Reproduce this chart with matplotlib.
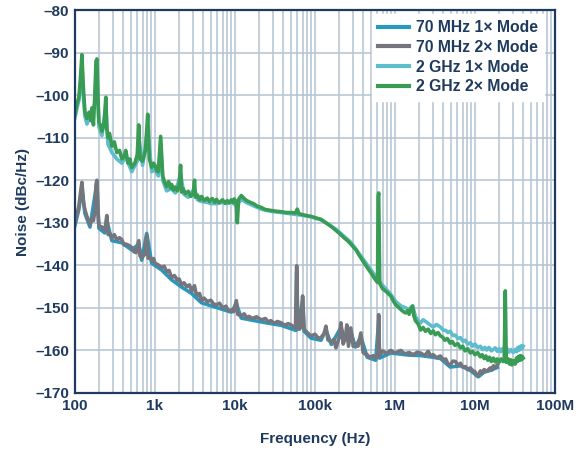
import matplotlib
matplotlib.use("Agg")
import matplotlib.pyplot as plt
from matplotlib.ticker import LogLocator, FixedLocator, NullFormatter

plt.rcParams['font.family'] = ['Liberation Sans', 'DejaVu Sans']

# ---------------- data (frequency in Hz, noise in dBc/Hz) ----------------
g2_f = [100, 106, 112, 117, 122, 127, 133, 141, 150, 158, 163, 170, 177, 183, 188, 194, 199,
        208, 217, 230, 243, 250, 258, 270, 289, 310, 333, 360, 385, 410, 431, 460, 485, 512,
        560, 600, 626, 650, 700, 760, 811, 850, 909, 960, 1000, 1050, 1100, 1177, 1250, 1320,
        1397, 1480, 1560, 1613, 1700, 1800, 1900, 2000, 2088, 2150, 2250, 2400, 2600, 2800,
        3000, 3119, 3200, 3400, 3600, 3811, 4100, 4500, 4800, 5200, 5600, 5861, 6300, 7000,
        7500, 8000, 8500, 8995, 9400, 9800, 10200, 10400, 10690, 11100, 11990, 13000, 14000,
        15500, 17000, 19000, 21280, 24000, 28310, 33000, 37740, 44000, 50230, 57000, 60000,
        63000, 66970, 78000, 89210, 100000, 118800, 135000, 150000, 165000, 182600, 205000,
        230000, 255000, 280700, 305000, 330000, 350000, 373900, 400000, 430000, 460000,
        498000, 535000, 574300, 605000, 615000, 625000, 645000, 700000, 780000, 883500,
        950000, 1.02e6, 1.1e6, 1.2e6, 1.28e6, 1.36e6, 1.45e6, 1.5e6, 1.58e6, 1.66e6, 1.72e6,
        1.8e6, 1.95e6, 2.09e6, 2.25e6, 2.4e6, 2.6e6, 2.8e6, 3.0e6, 3.2e6, 3.45e6, 3.7e6,
        3.95e6, 4.2e6, 4.5e6, 4.9e6, 5.2e6, 5.6e6, 6.1e6, 6.58e6, 7e6, 7.5e6, 8.1e6, 8.75e6,
        9.3e6, 10e6, 10.8e6, 11.66e6, 12.3e6, 13e6, 13.7e6, 14.5e6, 15.2e6, 16e6, 17e6,
        17.9e6, 19e6, 20e6, 21.2e6, 22.5e6, 23.2e6, 23.9e6, 24.6e6, 26e6, 27e6, 28e6, 29e6,
        30e6, 31.8e6, 33e6, 34e6, 35e6, 36e6, 37e6, 38e6, 39e6, 40e6]
g2_v = [-104.5, -102, -100.5, -96, -90.5, -98, -104, -105.5, -104, -106, -103, -107, -100, -92,
        -91.5, -101, -106.5, -107, -108.5, -107, -100.5, -108, -110, -109, -112, -111, -113.5,
        -113, -115, -114.5, -113, -116, -115, -117, -116, -114, -107, -115, -115.5, -113,
        -104.5, -115, -117, -116, -116.5, -117.8, -118, -109.7, -119, -120.5, -121.5, -120.3,
        -121.8, -121, -122.3, -121.6, -122.5, -121.5, -116.5, -122.8, -122, -123.2, -122.6,
        -123.8, -123.2, -120, -124, -123.5, -124.6, -123.8, -124.8, -124.2, -125, -124.3,
        -125.2, -124.5, -125.3, -124.6, -125.4, -124.8, -125.3, -124.6, -125.2, -124.4, -125,
        -126, -130, -124.5, -123.6, -124.3, -124.8, -125.2, -125.5, -126.1, -126.4, -126.9,
        -127.1, -127.3, -127.4, -127.6, -127.6, -127.7, -126.8, -127.9, -128, -128.3, -128.5,
        -128.8, -129.2, -129.9, -130.5, -131.1, -131.8, -132.6, -133.5, -134.2, -135, -135.8,
        -136.5, -137.4, -138.2, -139.1, -140, -140.8, -141.7, -142.6, -143.5, -144, -124, -123,
        -144.3, -145.5, -146.2, -147.2, -148.3, -149.3, -149.8, -150.5, -150.9, -151.2, -150.6,
        -151.5, -150.2, -149.6, -151.8, -153, -153.8, -155.2, -154.6, -155.5, -155, -156,
        -155.4, -156.3, -155.8, -156.6, -156.9, -157.6, -157.2, -158.3, -157.9, -158.8, -158.4,
        -159.4, -159, -160.1, -159.6, -160.6, -160.2, -161, -160.5, -161.5, -161, -161.9,
        -161.3, -162.3, -161.6, -162.6, -161.8, -162.7, -162, -162.8, -162, -162.6, -162.3,
        -146, -162.8, -162, -163.2, -162.2, -163.4, -162.4, -163.2, -161.8, -162.6, -161.4,
        -162.3, -161.2, -162.2, -161.4, -161.8]

c1_f = [100, 106, 112, 117, 122, 127, 133, 141, 150, 163, 177, 183, 188, 199, 217, 243, 258,
        289, 333, 385, 431, 512, 600, 626, 700, 811, 909, 1000, 1100, 1177, 1250, 1397, 1600,
        1800, 2088, 2300, 2600, 3119, 3400, 3811, 4500, 5000, 5861, 7000, 8000, 9000, 10400,
        11990, 14000, 17000, 21280, 28310, 37740, 50230, 66970, 89210, 118800, 182600,
        280700, 373900, 498000, 663500, 883500, 1.02e6, 1.2e6, 1.36e6, 1.5e6, 1.66e6, 1.8e6,
        1.95e6, 2.09e6, 2.25e6, 2.5e6, 2.7e6, 3.0e6, 3.3e6, 3.7e6, 4.0e6, 4.3e6, 4.6e6,
        4.9e6, 5.3e6, 5.7e6, 6.1e6, 6.58e6, 7.1e6, 7.6e6, 8.1e6, 8.75e6, 9.3e6, 10e6, 10.8e6,
        11.66e6, 12.5e6, 13.3e6, 14e6, 15e6, 16e6, 17.9e6, 19e6, 20e6, 21e6, 22e6, 23.5e6,
        25e6, 26.5e6, 28e6, 30e6, 31.8e6, 33e6, 34e6, 35e6, 36e6, 37e6, 38e6, 39e6, 40e6]
c1_v = [-105.3, -103, -101.2, -97.5, -93, -100, -105, -106.8, -105.5, -104.5, -102, -95,
        -94, -107.5, -109.5, -103, -111.5, -113.5, -115, -116, -114.5, -118, -115.5, -110,
        -116.5, -108, -118, -117.5, -119, -112, -120, -122.5, -122, -123, -118.5, -123.3, -124,
        -122, -124.6, -125, -125.2, -125.5, -125.5, -125.2, -125.5, -125.1, -126, -124.5,
        -125.3, -126, -126.8, -127.3, -127.6, -127.9, -128.2, -128.6, -129.3, -131.5, -134.6,
        -137.8, -141, -144.2, -146.8, -148.5, -149.6, -150, -150.4, -149.5, -152, -153,
        -153.5, -152.8, -153.4, -153.9, -154.5, -153.9, -154.5, -155.2, -155.3, -155.8,
        -155.5, -156.5, -156.4, -157.2, -157, -157.9, -157.6, -158.5, -158.2, -159, -158.5,
        -159.3, -159, -159.8, -159.3, -159.9, -159.3, -160.1, -159.4, -160.2, -159.6, -160.3,
        -159.6, -160.4, -159.5, -160.4, -159.8, -160.5, -159.8, -160.3, -159.4, -160,
        -159.1, -159.8, -158.9, -159.5, -159]

g70_f = [100, 106, 112, 117, 122, 127, 133, 141, 154, 162, 170, 178, 183, 188, 194, 199, 217,
         236, 250, 260, 270, 289, 310, 333, 360, 385, 410, 431, 470, 512, 545, 580, 626, 650,
         682, 740, 788, 820, 850, 909, 960, 1000, 1100, 1211, 1300, 1400, 1500, 1613, 1750,
         1900, 2000, 2148, 2300, 2500, 2700, 2861, 3000, 3119, 3250, 3400, 3600, 3811, 4100,
         4500, 5000, 5400, 5861, 6400, 7000, 7700, 8300, 8995, 9600, 10400, 10800, 11990,
         13000, 14000, 15000, 16500, 18500, 21280, 24000, 26000, 28000, 31000, 34000, 37740,
         42000, 46000, 50230, 54000, 57000, 59000, 61000, 64000, 67000, 70000, 73000, 80000,
         89210, 100000, 110000, 118800, 130000, 137000, 145000, 160000, 172000, 182600,
         200000, 211000, 225000, 240000, 250000, 262000, 280000, 300000, 320000, 345000,
         374000, 400000, 430000, 450000, 480000, 500000, 540000, 574000, 610000, 625000,
         640000, 700000, 780000, 883500, 1e6, 1.18e6, 1.32e6, 1.5e6, 1.7e6, 1.9e6, 2.09e6,
         2.35e6, 2.6e6, 2.8e6, 3.0e6, 3.3e6, 3.7e6, 4e6, 4.3e6, 4.6e6, 4.9e6, 5.3e6, 5.7e6,
         6.1e6, 6.58e6, 7e6, 7.6e6, 8.1e6, 8.75e6, 9.4e6, 10e6, 10.5e6, 11e6, 11.7e6, 12.3e6,
         13e6, 14e6, 15.5e6, 16.3e6, 17e6, 18e6, 19e6]
g70_v = [-130, -128, -126, -123, -120.5, -125, -127, -128.5, -130.4, -129, -129.5, -127, -121,
         -120, -128, -130.7, -131, -131.8, -128.3, -132.8, -132.5, -133.5, -132.8, -134, -133.5,
         -134, -135.2, -135, -135.3, -135.8, -136.8, -137, -134.2, -137.8, -138.2, -137.5, -133,
         -138.3, -138, -138.9, -138.4, -139.5, -139.9, -140.5, -140.2, -141.5, -141.2, -142.9,
         -142.4, -143.5, -143.2, -144.6, -144.1, -145, -144.6, -146, -145.5, -144.8, -146.5,
         -147, -146.6, -148.3, -147.7, -148.5, -148.2, -149.1, -149.3, -148.9, -150, -149.6,
         -150.7, -150.5, -150.9, -148.3, -151.5, -151.9, -151.4, -152.3, -152, -152.5, -152.1,
         -152.8, -152.5, -153.3, -153, -153.6, -153.2, -153.5, -154.1, -153.7, -154, -154.5,
         -154.7, -140.1, -154.5, -155, -154.4, -147.2, -155, -155.8, -156.6, -156.2, -157.1,
         -157, -156, -154.3, -157.5, -158, -157.4, -159.4, -157, -153.5, -158.5, -157, -154,
         -159, -154.7, -159, -158.5, -159, -155.9, -160.5, -160.9, -161, -161.6, -161.5,
         -161.2, -161.8, -161.5, -151.6, -161.3, -160.1, -160.7, -160, -160.6, -160, -160.8,
         -160.5, -161, -160.4, -160.6, -161.2, -160.2, -161.3, -161, -161.7, -161.3, -162.2,
         -162, -163.2, -163.4, -162.5, -162.6, -163.5, -163, -163.9, -163.8, -164.5, -164.1,
         -164.8, -165, -165.9, -165.8, -164.8, -165.3, -164.5, -164.9, -164.1, -164.6, -163.6,
         -164, -163.4]

b70_f = [100, 112, 122, 133, 154, 183, 188, 199, 236, 250, 289, 385, 512, 626, 682, 788, 909,
         1211, 1613, 2148, 2861, 3811, 5861, 8995, 10400, 11990, 21280, 37740, 58000, 59000,
         61000, 70000, 73000, 89210, 118800, 137000, 160000, 211000, 240000, 280000, 320000,
         374000, 450000, 574000, 625000, 640000, 883500, 1.5e6, 2.09e6, 3.0e6, 3.7e6, 4.9e6,
         6.58e6, 8.75e6, 11e6, 13e6, 15.5e6, 19e6]
b70_v = [-130.6, -126.8, -121.5, -127.8, -131, -122, -121, -131.3, -132.4, -129.5, -134.2,
         -134.7, -136.4, -135, -138.8, -132.5, -139.5, -141.1, -143.4, -145.1, -146.6, -148.8,
         -149.9, -151, -149, -152.4, -153.3, -154.1, -155.3, -141.5, -155, -148.3, -155.5,
         -157.1, -157.6, -155.2, -158.6, -154.6, -157.6, -155.6, -159.2, -156.8, -161.6,
         -162.3, -153, -161.8, -160.6, -161.1, -161.2, -161.6, -161.9, -163.9, -163.6, -164.7,
         -166.2, -165.1, -164.7, -164]

series_labels = ['70 MHz 1× Mode', '70 MHz 2× Mode', '2 GHz 1× Mode', '2 GHz 2× Mode']
series_colors = ['#2a97bf', '#75767d', '#5dbdcc', '#389c55']

x_ticks = [1e2, 1e3, 1e4, 1e5, 1e6, 1e7, 1e8]
x_ticklabels = ['100', '1k', '10k', '100k', '1M', '10M', '100M']
y_ticks = list(range(-170, -79, 10))

# ---------------- figure ----------------
navy = '#1f3a5f'
grid_c = '#b3c2cf'
fig = plt.figure(figsize=(5.86, 4.53), dpi=100)
ax = fig.add_axes([75 / 586, 1 - 393 / 453, 480 / 586, 383 / 453])

data = [(b70_f, b70_v), (g70_f, g70_v), (c1_f, c1_v), (g2_f, g2_v)]
for (f, v), lab, col in zip(data, series_labels, series_colors):
    ax.plot(f, v, color=col, lw=2.6, label=lab, solid_joinstyle='round')

ax.set_xscale('log')
ax.set_xlim(1e2, 1e8)
ax.set_ylim(-170, -80)
ax.xaxis.set_major_locator(FixedLocator(x_ticks))
ax.set_xticklabels(x_ticklabels)
ax.xaxis.set_minor_locator(LogLocator(base=10, subs=range(2, 10), numticks=100))
ax.xaxis.set_minor_formatter(NullFormatter())
ax.set_yticks(y_ticks)
ax.set_yticklabels([f'\u2013{abs(t)}' for t in y_ticks])

ax.grid(True, which='major', axis='both', color=grid_c, lw=1.1)
ax.grid(True, which='minor', axis='x', color=grid_c, lw=1.1)
ax.set_axisbelow(True)
ax.tick_params(which='both', length=0, pad=4)
for lbl in ax.get_xticklabels() + ax.get_yticklabels():
    lbl.set_fontweight('bold')
    lbl.set_fontsize(11)
    lbl.set_color(navy)
for s in ax.spines.values():
    s.set_color(navy)
    s.set_linewidth(1.6)

ax.set_xlabel('Frequency (Hz)', fontsize=11, fontweight='bold', color=navy, labelpad=14)
ax.set_ylabel('Noise (dBc/Hz)', fontsize=11, fontweight='bold', color=navy, labelpad=4)

leg = ax.legend(loc='upper right', bbox_to_anchor=(0.977, 0.99), frameon=True, fancybox=False,
                framealpha=1, edgecolor='white', borderpad=0.4, handlelength=2.0,
                handletextpad=0.4, labelspacing=0.3, borderaxespad=0.0,
                prop={'weight': 'bold', 'size': 11.3})
for t in leg.get_texts():
    t.set_color(navy)
for h in leg.get_lines():
    h.set_linewidth(3)

fig.savefig('out.png', dpi=100)
